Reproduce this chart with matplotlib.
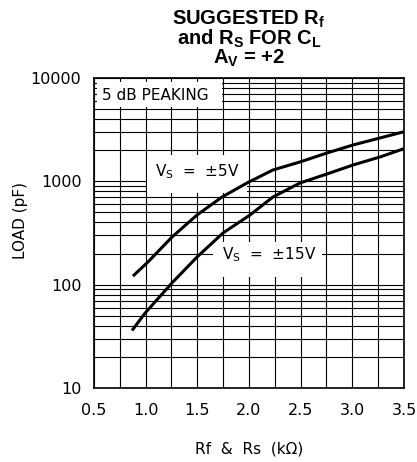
import matplotlib
matplotlib.use("Agg")
import matplotlib.pyplot as plt
import numpy as np
from matplotlib.patches import Rectangle
from matplotlib.ticker import FixedLocator, NullFormatter

plt.rcParams["font.family"] = "DejaVu Sans"
plt.rcParams["mathtext.fontset"] = "custom"
plt.rcParams["mathtext.bf"] = "Liberation Sans:bold"
plt.rcParams["mathtext.rm"] = "Liberation Sans"

# Suggested load capacitance (pF) vs. Rf & Rs (kOhm), for both supply voltages
rf_5v = [0.877, 1.023, 1.255, 1.497, 1.739, 1.981, 2.232, 2.494, 2.755, 3.007, 3.268, 3.5]
load_5v = [121, 166, 289, 472, 705, 964, 1288, 1540, 1880, 2248, 2627, 3020]

rf_15v = [0.868, 0.994, 1.255, 1.497, 1.748, 2.010, 2.232, 2.494, 2.755, 3.007, 3.268, 3.5]
load_15v = [36, 53, 104, 185, 316, 472, 705, 964, 1178, 1439, 1720, 2070]

x_ticks = [0.5, 1.0, 1.5, 2.0, 2.5, 3.0, 3.5]
y_ticks = [10, 100, 1000, 10000]

fig = plt.figure(figsize=(4.17, 4.62), dpi=100)
ax = fig.add_axes([0.2254, 0.1602, 0.7434, 0.671])

ax.set_yscale("log")
ax.set_xlim(0.5, 3.5)
ax.set_ylim(10, 10000)
ax.set_axisbelow(True)

# grid: every 0.25 kOhm and every 1..9 x decade
ax.xaxis.set_major_locator(FixedLocator(x_ticks))
ax.xaxis.set_minor_locator(FixedLocator(np.arange(0.5, 3.51, 0.25)))
ax.yaxis.set_major_locator(FixedLocator(y_ticks))
minor_y = [m * d for d in (10, 100, 1000) for m in range(2, 10)]
ax.yaxis.set_minor_locator(FixedLocator(minor_y))
ax.yaxis.set_minor_formatter(NullFormatter())
ax.set_xticklabels([f"{v:.1f}" for v in x_ticks])
ax.set_yticklabels([str(v) for v in y_ticks])
ax.grid(True, which="both", color="black", linewidth=0.8)
ax.tick_params(which="both", length=0, labelsize=11.5, colors="black")
ax.tick_params(axis="x", pad=10.5)
ax.tick_params(axis="y", pad=9)
for s in ax.spines.values():
    s.set_linewidth(1.2)

ax.plot(rf_5v, load_5v, color="black", linewidth=2.2, solid_capstyle="butt", zorder=3)
ax.plot(rf_15v, load_15v, color="black", linewidth=2.2, solid_capstyle="butt", zorder=3)

# white panels behind the annotations, blanking out the grid
for (x0, x1, y0, y1) in [(0.529, 1.739, 5240, 9150),
                         (1.012, 1.981, 771, 1800),
                         (1.652, 2.706, 119, 259)]:
    ax.add_patch(Rectangle((x0, y0), x1 - x0, y1 - y0, facecolor="white",
                           edgecolor="none", zorder=2))

ax.text(0.577, 6840, "5 dB PEAKING", fontsize=11, va="center", ha="left", zorder=4)
ax.text(1.09, 1230, r"V$_\mathregular{S}$  =  ±5V", fontsize=11, va="center",
        ha="left", zorder=4)
ax.text(1.739, 194, r"V$_\mathregular{S}$  =  ±15V", fontsize=11, va="center",
        ha="left", zorder=4)

ax.set_xlabel("Rf  &  Rs  (kΩ)", fontsize=11)
ax.xaxis.set_label_coords(0.5, -0.174)
ax.set_ylabel("LOAD (pF)", fontsize=11)
ax.yaxis.set_label_coords(-0.213, 0.539)

title = ("SUGGESTED R$_\\mathbf{f}$\n"
         "and R$_\\mathbf{S}$ FOR C$_\\mathbf{L}$\n"
         "A$_\\mathbf{V}$ = +2")
fig.text(249 / 417, 1 - 63.5 / 462, title, ha="center", va="baseline",
         multialignment="center", linespacing=0.86,
         fontsize=14.5, fontweight="bold", family="Liberation Sans")

fig.savefig("out.png", dpi=100)
